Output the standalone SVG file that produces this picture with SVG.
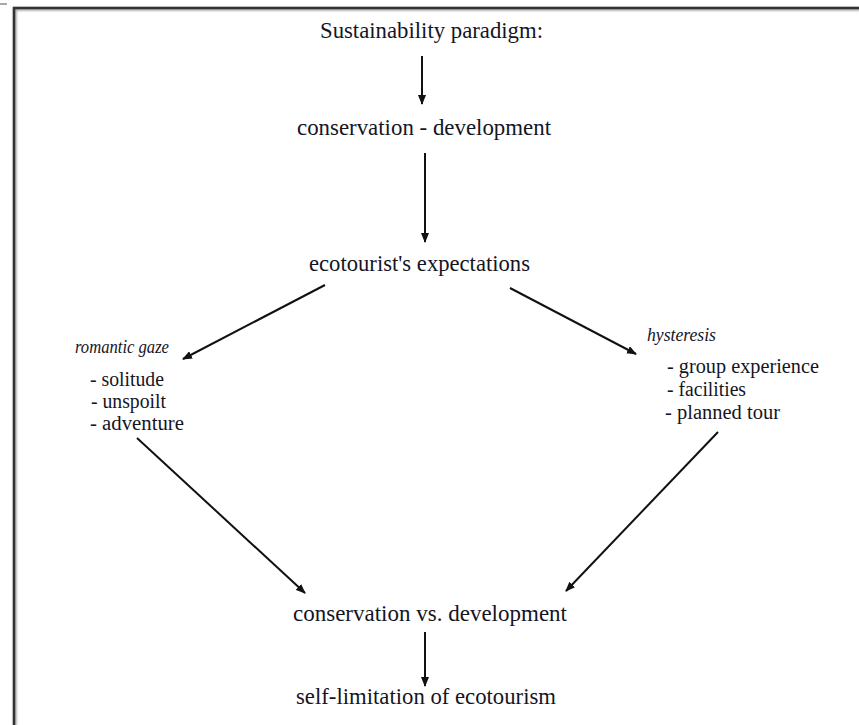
<svg xmlns="http://www.w3.org/2000/svg" width="859" height="725" viewBox="0 0 859 725">
  <defs>
    <marker id="arrow" markerWidth="10" markerHeight="8" refX="9" refY="4" orient="auto" markerUnits="userSpaceOnUse">
      <path d="M0,0 L10,4 L0,8 Z" fill="#111"/>
    </marker>
    <filter id="shadow" x="-5%" y="-5%" width="110%" height="110%">
      <feGaussianBlur stdDeviation="1"/>
    </filter>
  </defs>
  <style>
    .edge { stroke: #111; stroke-width: 2; fill: none; marker-end: url(#arrow); }
  </style>
  <rect width="859" height="725" fill="#fff"/>

  <!-- frame -->
  <g id="frame">
    <path d="M14,725 V8 H859" stroke="#999" stroke-width="3" fill="none" filter="url(#shadow)" transform="translate(1,1)"/>
    <path d="M14,725 V8 H859" stroke="#333" stroke-width="2.5" fill="none"/>
    <line x1="0" y1="4" x2="7" y2="4" stroke="#555" stroke-width="1"/>
  </g>

  <!-- connectors -->
  <g id="connectors">
    <line class="edge" x1="422" y1="56" x2="422" y2="104"/>
    <line class="edge" x1="425" y1="153" x2="425" y2="242"/>
    <line class="edge" x1="325" y1="285" x2="183" y2="359"/>
    <line class="edge" x1="510" y1="288" x2="636" y2="354"/>
    <line class="edge" x1="137" y1="438" x2="305" y2="593"/>
    <line class="edge" x1="718" y1="432" x2="566" y2="591"/>
    <line class="edge" x1="425" y1="632" x2="425" y2="686"/>
  </g>

  <g font-family="Liberation Serif, Times New Roman, serif" fill="#15151f" lengthAdjust="spacingAndGlyphs">
    <g id="paradigm" font-size="23">
      <text x="320" y="38" textLength="223" lengthAdjust="spacingAndGlyphs">Sustainability paradigm:</text>
    </g>
    <g id="cons-dev" font-size="23">
      <text x="297" y="135" textLength="254" lengthAdjust="spacingAndGlyphs">conservation - development</text>
    </g>
    <g id="expectations" font-size="23">
      <text x="309" y="271" textLength="221" lengthAdjust="spacingAndGlyphs">ecotourist's expectations</text>
    </g>
    <g id="romantic-gaze">
      <text x="75" y="353" font-size="18" font-style="italic" textLength="94" lengthAdjust="spacingAndGlyphs">romantic gaze</text>
      <text x="90" y="386" font-size="20" textLength="74" lengthAdjust="spacingAndGlyphs">- solitude</text>
      <text x="91" y="408" font-size="20" textLength="75" lengthAdjust="spacingAndGlyphs">- unspoilt</text>
      <text x="90" y="430" font-size="20" textLength="94" lengthAdjust="spacingAndGlyphs">- adventure</text>
    </g>
    <g id="hysteresis">
      <text x="647" y="341" font-size="18" font-style="italic" textLength="69" lengthAdjust="spacingAndGlyphs">hysteresis</text>
      <text x="667" y="373" font-size="20" textLength="152" lengthAdjust="spacingAndGlyphs">- group experience</text>
      <text x="667" y="396" font-size="20" textLength="79" lengthAdjust="spacingAndGlyphs">- facilities</text>
      <text x="665" y="419" font-size="20" textLength="115" lengthAdjust="spacingAndGlyphs">- planned tour</text>
    </g>
    <g id="cons-vs-dev" font-size="23">
      <text x="293" y="621" textLength="274" lengthAdjust="spacingAndGlyphs">conservation vs. development</text>
    </g>
    <g id="self-limitation" font-size="23">
      <text x="296" y="704" textLength="260" lengthAdjust="spacingAndGlyphs">self-limitation of ecotourism</text>
    </g>
  </g>
</svg>
